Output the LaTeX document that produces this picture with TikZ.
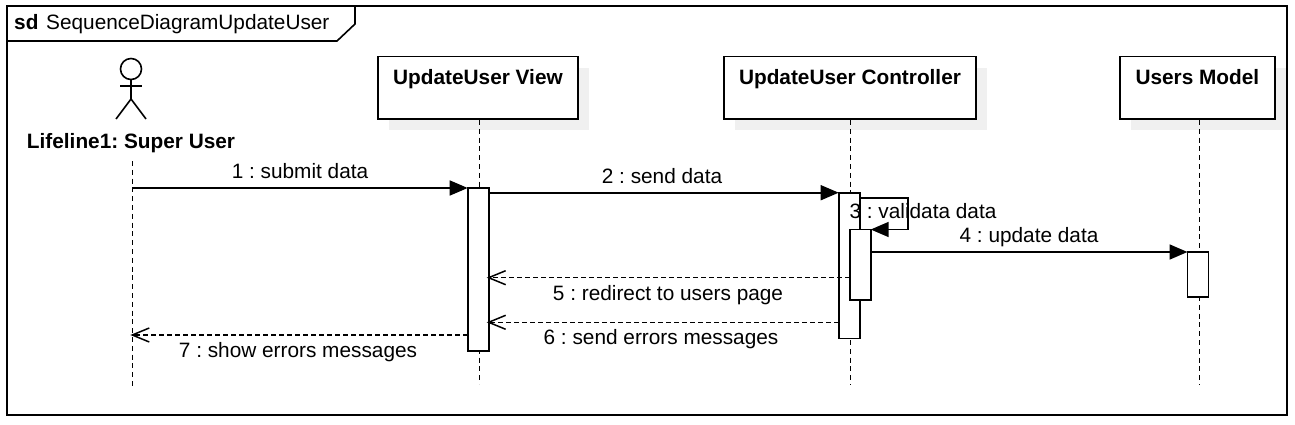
\documentclass[tikz,border=0pt]{standalone}
\usepackage{fontspec}
\setmainfont{Liberation Sans}
\frenchspacing
\usetikzlibrary{arrows.meta, positioning, calc, shadows}
\definecolor{shadowgray}{RGB}{240,240,240}
\tikzset{
    umlline/.style={line width=1.6pt, draw=black},
    lifebox/.style={rectangle, umlline, fill=white, outer sep=0pt, minimum height=62.6pt, text height=27.8pt, text depth=34.8pt, inner sep=0pt, font=\fontsize{20.8}{24}\selectfont\bfseries, drop shadow={shadow xshift=11pt, shadow yshift=-11pt, fill=shadowgray, opacity=1}},
    actbar/.style={rectangle, umlline, fill=white, outer sep=0pt, minimum width=21pt, inner sep=0pt},
    lifeline/.style={line width=1.5pt, dash pattern=on 5pt off 3.8pt},
    msgcall/.style={umlline, -{Triangle[length=18pt, width=15pt]}},
    msgback/.style={line width=1.5pt, dash pattern=on 5pt off 3pt, shorten >=-2pt, -{Straight Barb[length=17pt, width=14pt, line width=1.5pt]}},
    msglabel/.style={inner sep=0pt, text height=14.8pt, text depth=0pt, font=\fontsize{20.8}{24}\selectfont},
}
\begin{document}
\begin{tikzpicture}[x=1pt, y=-1pt]
    \useasboundingbox (0,0) rectangle (1295,425);

    % Frame
    \draw[umlline] (7,6) rectangle (1287,415);
    \draw[umlline] (7,41) -- (337,41) -- (355,24) -- (355,6);
    \node[msglabel, anchor=west] (sdtag) at (14,22) {\textbf{sd}};
    \node[msglabel, anchor=west] (sdname) at (46,22) {SequenceDiagramUpdateUser};

    % Actor
    \node[circle, umlline, outer sep=0pt, minimum size=21pt, inner sep=0pt] (head) at (131,69) {};
    \coordinate (hip) at (131,99);
    \draw[umlline] (head.south) -- (hip);
    \draw[umlline] (120,86) -- (142,86);
    \draw[umlline] (116,119) -- (hip) -- (146,119);
    \node[msglabel, font=\fontsize{20.8}{24}\selectfont\bfseries] (actor) at (131,141) {Lifeline1: Super User};

    % Lifeline heads
    \node[lifebox, minimum width=200pt] (viewbox) at (478,88) {UpdateUser View};
    \node[lifebox, minimum width=252pt] (ctrlbox) at (850,88) {UpdateUser Controller};
    \node[lifebox, minimum width=154.7pt] (modelbox) at (1197.4,88) {Users Model};

    % Lifelines
    \coordinate (actortop) at (132.3,161);
    \coordinate (actorfoot) at (132.3,386);
    \coordinate (viewtop) at (479.5,120);
    \coordinate (viewfoot) at (479.5,384);
    \coordinate (ctrltop) at (850.7,120);
    \coordinate (ctrlfoot) at (850.7,385);
    \coordinate (modeltop) at (1199.4,120);
    \coordinate (modelfoot) at (1199.4,385);
    \draw[lifeline] (actortop) -- (actorfoot);
    \draw[lifeline] (viewtop) -- (viewfoot);
    \draw[lifeline] (ctrltop) -- (ctrlfoot);
    \draw[lifeline] (modeltop) -- (modelfoot);

    % Activation bars
    \node[actbar, minimum height=163pt] (viewbar) at (478.2,269.5) {};
    \node[actbar, minimum height=145.6pt] (ctrlbar) at (849.2,265.5) {};
    \node[actbar, minimum height=70.5pt] (innerbar) at (860.2,264.75) {};
    \node[actbar, minimum height=45pt] (modelbar) at (1198,274.5) {};

    % Messages
    \coordinate (loopstart) at (859.7,197.7);
    \coordinate (loopright) at (907.7,197.7);
    \coordinate (loopend) at (907.7,229.5);
    \coordinate (backfive) at (849.7,277.7);
    \coordinate (backsix) at (838.7,322.3);
    \coordinate (backseven) at (467.7,335);
    \draw[msgcall] (actortop |- viewbar.north west) -- (viewbar.north west);
    \draw[msgcall] (viewbar.east |- ctrlbar.north west) -- (ctrlbar.north west);
    \draw[msgcall] (loopstart) -- (loopright) -- (loopend) -- (innerbar.north east);
    \draw[msgcall] (innerbar.east |- modelbar.north west) -- (modelbar.north west);
    \draw[msgback] (backfive) -- (viewbar.east |- backfive);
    \draw[msgback] (backsix) -- (viewbar.east |- backsix);
    \draw[msgback] (backseven) -- (actortop |- backseven);

    % Message labels
    \node[msglabel] (msgone) at (300,171) {1 : submit data};
    \node[msglabel] (msgtwo) at (662,176) {2 : send data};
    \node[msglabel] (msgthree) at (923,211) {3 : validata data};
    \node[msglabel] (msgfour) at (1029,235) {4 : update data};
    \node[msglabel] (msgfive) at (668,293) {5 : redirect to users page};
    \node[msglabel] (msgsix) at (661,337) {6 : send errors messages};
    \node[msglabel] (msgseven) at (298,350) {7 : show errors messages};
\end{tikzpicture}
\end{document}
